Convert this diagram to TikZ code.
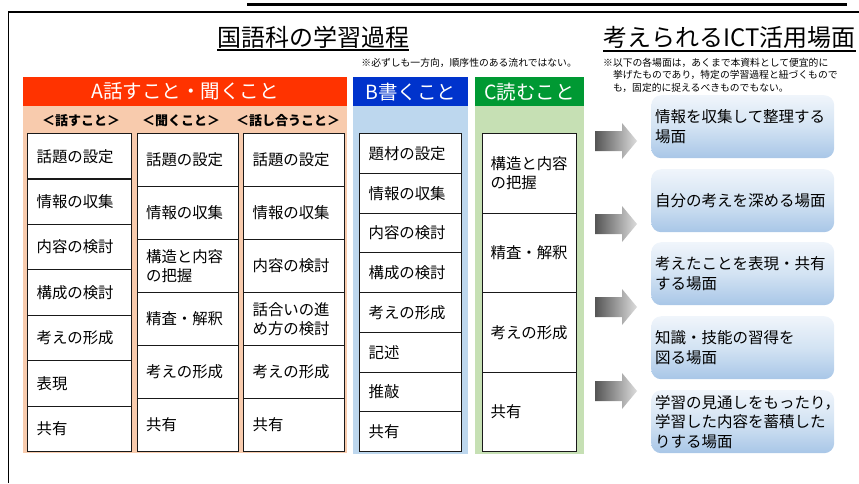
\documentclass[tikz,border=0pt]{standalone}
\usepackage{fontspec}
\setmainfont{Noto Sans CJK JP}
\definecolor{Ared}{HTML}{FF3300}
\definecolor{Apeach}{HTML}{F8CBAD}
\definecolor{Bblue}{HTML}{0033CC}
\definecolor{Bpanel}{HTML}{BDD7EE}
\definecolor{Cgreen}{HTML}{009933}
\definecolor{Cpanel}{HTML}{C6E0B4}
\definecolor{sceneTop}{HTML}{F0F5FB}
\definecolor{sceneMid}{HTML}{D3E3F3}
\definecolor{sceneBot}{HTML}{A8C6E7}
\definecolor{arrDark}{HTML}{555555}
\definecolor{arrLight}{HTML}{DDDDDD}
\begin{document}
\begin{tikzpicture}[x=1pt,y=-1pt,
  cell/.style={draw=black!90, line width=1.2pt, fill=white, anchor=north west,
    inner xsep=9pt, inner ysep=0pt, align=left,
    font=\fontsize{15.4}{19}\selectfont},
  panel/.style={anchor=north west, inner sep=0pt},
  hdr/.style={anchor=north west, inner sep=0pt, text=white,
    font=\fontsize{19.5}{22}\selectfont},
  subhdr/.style={anchor=base, inner sep=0pt, font=\fontsize{13}{15}\selectfont\bfseries},
  scene/.style={anchor=north west, rounded corners=10pt, top color=sceneTop,
    bottom color=sceneBot, middle color=sceneMid, inner xsep=4pt, inner ysep=0pt,
    minimum height=63pt, text width=175pt, align=left,
    font=\fontsize{15.5}{19.5}\selectfont},
  arrowsh/.style={left color=arrDark, right color=arrLight},
  note/.style={inner sep=0pt, font=\fontsize{9.8}{12.8}\selectfont},
  title/.style={anchor=base west, inner sep=0pt, font=\fontsize{24}{28}\selectfont}
]
\useasboundingbox (0,0) rectangle (859,483);
% frame and top rule
\draw[line width=1.3pt] (8.5,483) -- (8.5,12) -- (859,12);
\draw[line width=2.5pt] (247,4.7) -- (847,4.7);

% titles
\node[title] (t1) at (217,46) {国語科の学習過程};
\draw[line width=1.3pt] ([yshift=-4pt]t1.base west) -- ([yshift=-4pt]t1.base east);
\node[title] (t2) at (603,46) {考えられるICT活用場面};
\draw[line width=1.3pt] ([yshift=-5pt]t2.base west) -- ([yshift=-5pt]t2.base east);

% notes
\node[note, anchor=base east] (n1) at (577,66) {※必ずしも一方向，順序性のある流れではない。};
\node[note, anchor=base west] (n2a) at (603,66) {※以下の各場面は，あくまで本資料として便宜的に};
\node[note, anchor=base west] (n2b) at (612.8,78.8) {挙げたものであり，特定の学習過程と紐づくもので};
\node[note, anchor=base west] (n2c) at (612.8,91.6) {も，固定的に捉えるべきものでもない。};

% panels
\node[panel, fill=Apeach, minimum width=324pt, minimum height=376pt] (pa) at (23,77) {};
\node[panel, fill=Bpanel, minimum width=115pt, minimum height=377pt] (pb) at (353,77) {};
\node[panel, fill=Cpanel, minimum width=109pt, minimum height=377pt] (pc) at (475,77) {};
\node[hdr, fill=Ared, minimum width=324pt, minimum height=29pt] (ha) at (23,77) {A話すこと・聞くこと};
\node[hdr, fill=Bblue, minimum width=115pt, minimum height=29pt] (hb) at (353,77) {B書くこと};
\node[hdr, fill=Cgreen, minimum width=109pt, minimum height=29pt] (hc) at (475,77) {C読むこと};

% sub headers
\node[subhdr] (s1) at (81,125) {＜話すこと＞};
\node[subhdr] (s2) at (181,125) {＜聞くこと＞};
\node[subhdr] (s3) at (288,125) {＜話し合うこと＞};

% column A1
\foreach \t [count=\i from 0] in {話題の設定,情報の収集,内容の検討,構成の検討,考えの形成,表現,共有}
  \node[cell, text width=86pt, minimum height=45.43pt] (a1-\i) at (27,133+\i*45.43) {\t};
% column A2
\foreach \t [count=\i from 0] in {話題の設定,情報の収集,{構造と内容\\の把握},精査・解釈,考えの形成,共有}
  \node[cell, inner xsep=8.5pt, text width=84pt, minimum height=53pt] (a2-\i) at (137,133+\i*53) {\t};
% column A3
\foreach \t [count=\i from 0] in {話題の設定,情報の収集,内容の検討,{話合いの進\\め方の検討},考えの形成,共有}
  \node[cell, text width=83pt, minimum height=53pt] (a3-\i) at (243,133+\i*53) {\t};
% column B
\foreach \t [count=\i from 0] in {題材の設定,情報の収集,内容の検討,構成の検討,考えの形成,記述,推敲,共有}
  \node[cell, text width=84pt, minimum height=39.75pt] (b-\i) at (359,133+\i*39.75) {\t};
% column C
\foreach \t [count=\i from 0] in {{構造と内容\\の把握},精査・解釈,考えの形成,共有}
  \node[cell, inner xsep=8pt, text width=78pt, minimum height=79.5pt] (c-\i) at (482,133+\i*79.5) {\t};

% arrows
\foreach \c [count=\i] in {141,224,307,391}
  \path[arrowsh] (595,\c-10) -- (622,\c-10) -- (622,\c-18) -- (637,\c)
    -- (622,\c+18) -- (622,\c+10) -- (595,\c+10) -- cycle;

% scene boxes
\node[scene] (r1) at (651,95) {情報を収集して整理する\\場面};
\node[scene] (r2) at (651,169) {自分の考えを深める場面};
\node[scene] (r3) at (651,242) {考えたことを表現・共有\\する場面};
\node[scene] (r4) at (651,316) {知識・技能の習得を\\図る場面};
\node[scene] (r5) at (651,390) {学習の見通しをもったり，\\学習した内容を蓄積した\\りする場面};
\end{tikzpicture}
\end{document}
